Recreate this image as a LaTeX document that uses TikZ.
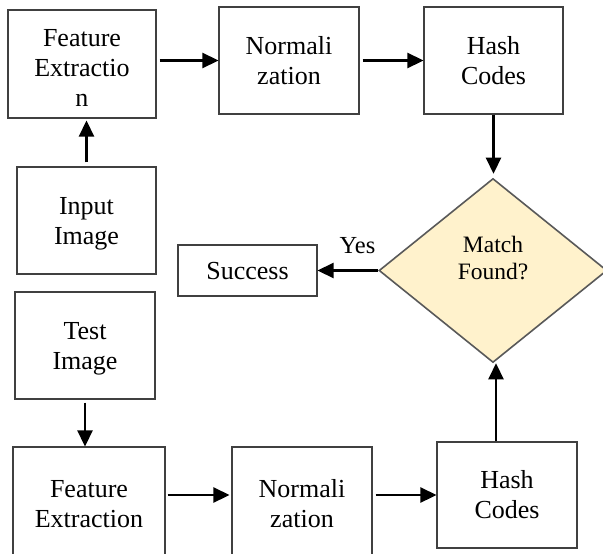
\documentclass[tikz,border=0pt]{standalone}
\usepackage{fontspec}
\setmainfont{Liberation Serif}
\usetikzlibrary{shapes.geometric,arrows.meta,calc}
\definecolor{boxline}{HTML}{404040}
\definecolor{dialine}{HTML}{595959}
\definecolor{diafill}{HTML}{FFF2CC}
\begin{document}
\begin{tikzpicture}[x=1pt,y=-1pt,
  box/.style={draw=boxline,line width=1.1pt,rectangle,inner sep=0pt,
    text width=130pt,align=center,font=\fontsize{26}{30}\selectfont,
    text height=17.5pt,text depth=30pt},
  dec/.style={draw=dialine,line width=1.6pt,fill=diafill,diamond,aspect=1,inner sep=0pt,
    minimum width=228pt,minimum height=184pt},
  dectext/.style={text width=90pt,align=center,font=\fontsize{23.5}{26.5}\selectfont,
    text height=16pt,text depth=26.5pt,inner sep=0pt},
  arr/.style={line width=2.6pt,-{Triangle[length=16pt,width=15pt]}},
  lbl/.style={font=\fontsize{24.5}{28}\selectfont,inner sep=0pt,anchor=base}]
\useasboundingbox (0,0) rectangle (603,554);
\node[box,minimum width=148pt,minimum height=108pt,text depth=52pt] (fe1) at (82,64) {Feature\\Extractio\\n};
\node[box,minimum width=140pt,minimum height=107pt] (norm1) at (289,60.5) {Normali\\zation};
\node[box,minimum width=139pt,minimum height=107pt] (hash1) at (493.5,60.5) {Hash\\Codes};
\node[box,minimum width=139pt,minimum height=107pt] (input) at (86.5,220.5) {Input\\Image};
\node[box,minimum width=139pt,minimum height=51pt,text depth=0pt] (succ) at (247.5,270.5) {Success};
\node[dec] (dia) at (493,270.5) {};
\node[dectext] (diat) at (493,258.2) {Match\\Found?};
\node[box,minimum width=140pt,minimum height=107pt] (test) at (85,345.5) {Test\\Image};
\node[box,minimum width=152pt,minimum height=113pt] (fe2) at (89,503.5) {Feature\\Extraction};
\node[box,minimum width=140pt,minimum height=113pt] (norm2) at (302,503.5) {Normali\\zation};
\node[box,minimum width=140pt,minimum height=106pt] (hash2) at (507,495) {Hash\\Codes};
\node[lbl] (yes) at (357.5,253.3) {Yes};
\draw[arr,shorten <=3pt] (fe1.east |- norm1.west) -- (norm1.west);
\draw[arr,shorten <=3pt] (norm1.east) -- (hash1.west);
\draw[arr,shorten >=4pt] (hash1.south) -- (hash1.south |- dia.north);
\draw[arr,shorten <=4pt,shorten >=2pt] (input.north) -- (input.north |- fe1.south);
\draw[arr] (dia.west) -- (dia.west -| succ.east);
\draw[arr,shorten <=3pt] (test.south) -- (test.south |- fe2.north);
\draw[arr,shorten <=2pt,shorten >=2pt] (fe2.east |- hash2.west) -- (norm2.west |- hash2.west);
\draw[arr,shorten <=3pt] (norm2.east |- hash2.west) -- (hash2.west);
\draw[arr] ($(hash2.north -| dia.south)+(3,0)$) -- ($(dia.south)+(3,0)$);
\end{tikzpicture}
\end{document}
